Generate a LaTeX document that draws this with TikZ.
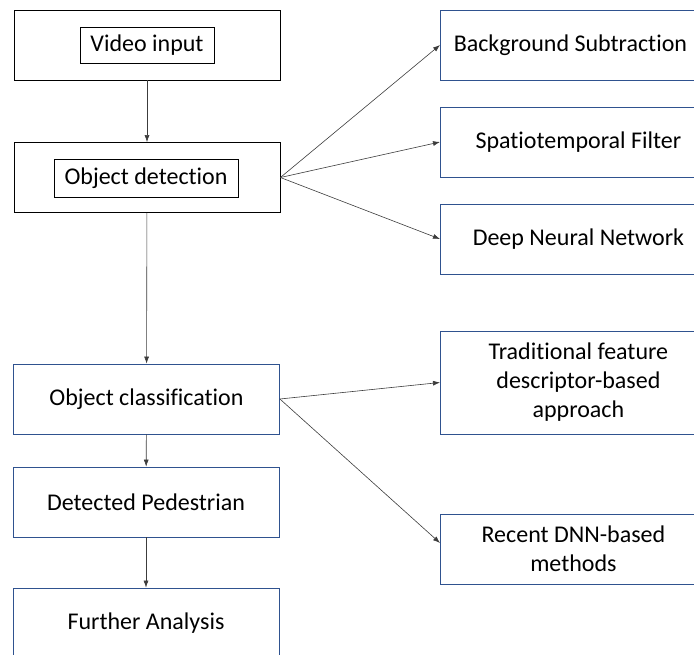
\documentclass[tikz,border=0pt]{standalone}
\usepackage{fontspec}
\setmainfont[Ligatures=NoCommon]{Carlito}
\usetikzlibrary{arrows.meta}
\definecolor{boxblue}{RGB}{47,82,143}
\definecolor{arrowgray}{RGB}{60,60,60}

\begin{document}
\begin{tikzpicture}[x=1pt,y=-1pt]
\tikzstyle{box}=[draw=boxblue,line width=0.8pt,minimum width=266pt,minimum height=70pt,inner sep=0pt,align=center,font=\fontsize{24}{29}\selectfont]
\tikzstyle{sidebox}=[box,anchor=west,minimum width=276pt]
\tikzstyle{inbox}=[draw,line width=0.8pt,inner sep=0pt,font=\fontsize{24}{29}\selectfont]
\tikzstyle{arr}=[draw=arrowgray,line width=0.6pt,-{Latex[length=7pt,width=5pt]}]
\useasboundingbox (0,0) rectangle (694,655);
\clip (0,0) rectangle (694,655);
% left column
\node[box,draw=black] (video) at (147,45) {};
\node[inbox,minimum width=134pt,minimum height=36pt] (videoin) at (147,45) {Video input};
\node[box,draw=black] (detect) at (147,177.5) {};
\node[inbox,minimum width=184pt,minimum height=38pt] (detectin) at (146,178) {Object detection};
\node[box] (classify) at (146.5,399) {Object classification};
\node[box] (pedestrian) at (146,502) {Detected Pedestrian};
\node[box] (analysis) at (146,623) {Further Analysis};
% right column
\node[sidebox] (bgsub) at (440,45) {\hspace*{-16pt}Background Subtraction};
\node[sidebox] (stfilter) at (440,142) {Spatiotemporal Filter};
\node[sidebox] (dnn) at (440,239) {Deep Neural Network};
\node[sidebox,minimum height=103pt] (trad) at (440,382.5) {Traditional feature\\descriptor-based\\approach};
\node[sidebox] (recent) at (440,549) {\hspace*{-10pt}Recent DNN-based\\\hspace*{-10pt}methods};
% arrows
\draw[arr] (video) -- (detect);
\draw[arr] (detect) -- (classify);
\draw[arr] (classify) -- (pedestrian);
\draw[arr] (pedestrian) -- (analysis);
\draw[arr] (detect.east) -- (bgsub.west);
\draw[arr] (detect.east) -- (stfilter.west);
\draw[arr] (detect.east) -- (dnn.west);
\draw[arr] (classify.east) -- (trad.west);
\draw[arr] (classify.east) -- ([yshift=6pt]recent.west);
\end{tikzpicture}
\end{document}
